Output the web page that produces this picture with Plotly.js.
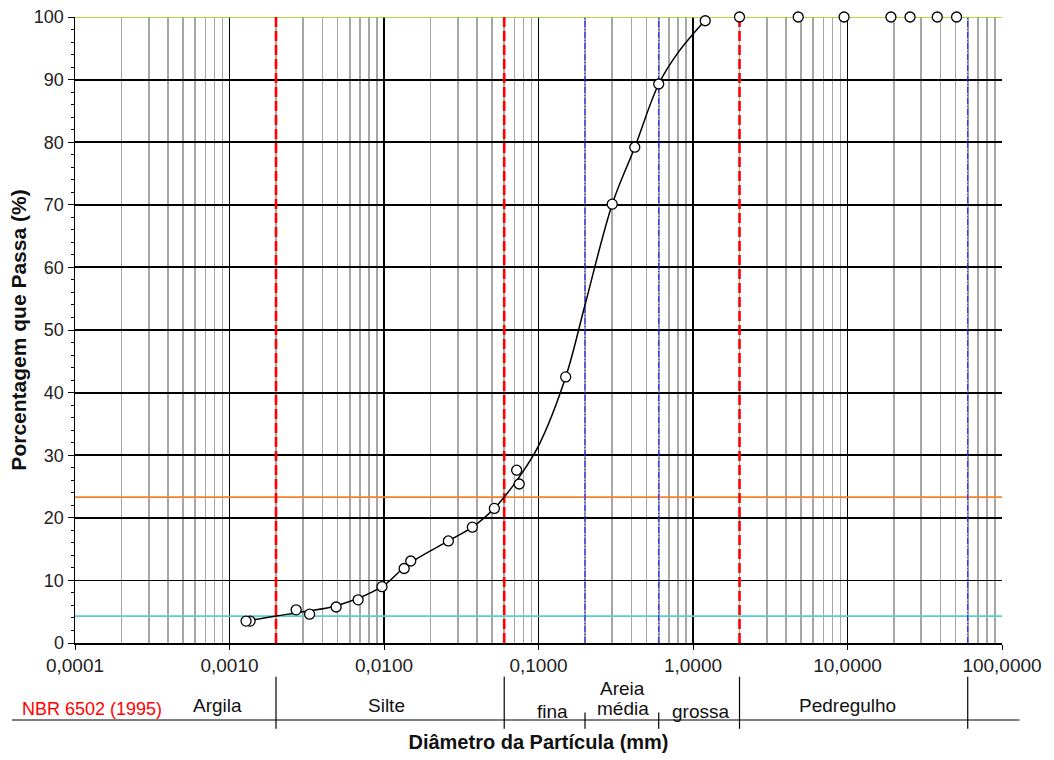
<!DOCTYPE html>
<html>
<head>
<meta charset="utf-8">
<script src="https://cdn.plot.ly/plotly-3.0.1.min.js"></script>
<style>html,body{margin:0;padding:0;background:#fff;}#chart{width:1054px;height:760px;}</style>
</head>
<body>
<div id="chart"></div>
<script>
// Sieve analysis (peneiramento)
const sieveDiam = [50.8, 38.1, 25.4, 19.1, 9.5, 4.8, 2.0, 1.2, 0.6, 0.42, 0.30, 0.15, 0.075];
const sievePass = [100, 100, 100, 100, 100, 100, 100, 99.4, 89.3, 79.2, 70.1, 42.5, 25.4];
// Sedimentation analysis
const sedDiam = [0.0722, 0.0518, 0.0373, 0.0261, 0.0149, 0.0135, 0.0097, 0.0068, 0.0049, 0.0033, 0.0027, 0.00136, 0.00128];
const sedPass = [27.6, 21.5, 18.5, 16.3, 13.1, 11.9, 9.0, 6.9, 5.75, 4.6, 5.3, 3.5, 3.5];
// Fitted granulometric curve
const curveDiam = [0.00128, 0.002, 0.003, 0.005, 0.0097, 0.0142, 0.0261, 0.0373, 0.0518, 0.06, 0.075, 0.1, 0.15, 0.2, 0.3, 0.42, 0.6, 0.8, 1.19];
const curvePass = [3.5, 4.3, 5.0, 6.0, 9.0, 12.5, 16.3, 18.5, 21.5, 23.3, 26.5, 31.5, 42.5, 54.0, 70.1, 79.2, 89.3, 94.3, 99.4];

// Axis ticks
const xTickVals = [0.0001, 0.001, 0.01, 0.1, 1, 10, 100];
const xTickText = ["0,0001", "0,0010", "0,0100", "0,1000", "1,0000", "10,0000", "100,0000"];
const yTickVals = [0, 10, 20, 30, 40, 50, 60, 70, 80, 90, 100];

// Reference lines
const redLimits = [0.002, 0.06, 2.0];      // NBR 6502 limits
const blueLimits = [0.2, 0.6, 60];         // sand sub-limits / gravel
const hLineY = [100, 23.3, 4.3];
const hLineColor = ["#99cc00", "#f5822a", "#55d0d0"];

// Classification band
const bandTall = [0.002, 0.06, 2.0, 60];
const bandSmall = [0.2, 0.6];
const bandText = ["Argila", "Silte", "fina", "Areia", "média", "grossa", "Pedregulho"];
const bandX = [0.00083, 0.0104, 0.124, 0.352, 0.352, 1.118, 10.07];
const bandY = [-0.100, -0.100, -0.109, -0.072, -0.104, -0.109, -0.100];

// minor gridlines 2..9 per decade
const xMinor = [];
for (let e = -4; e < 2; e++) for (let m = 2; m <= 9; m++) xMinor.push(+(m * Math.pow(10, e)).toPrecision(6));

const FONT = "Liberation Sans, Arial, sans-serif";
const X_MIN = 0.0001, X_MAX = 100;

const traces = [];
hLineY.forEach((y, i) => traces.push({x: [X_MIN, X_MAX], y: [y, y], type: "scatter", mode: "lines", line: {color: hLineColor[i], width: 1.6}, hoverinfo: "skip", showlegend: false, cliponaxis: false}));
redLimits.forEach(v => traces.push({x: [v, v], y: [0, 100], type: "scatter", mode: "lines", line: {color: "#ff0000", width: 2.6, dash: "10px,4px"}, hoverinfo: "skip", showlegend: false}));
blueLimits.forEach(v => traces.push({x: [v, v], y: [0, 100], type: "scatter", mode: "lines", line: {color: "#2a2aff", width: 1.2, dash: "6px,2px,1px,2px"}, hoverinfo: "skip", showlegend: false}));
traces.push({x: curveDiam, y: curvePass, type: "scatter", mode: "lines", line: {color: "#000", width: 1.5, shape: "spline", smoothing: 1}, hoverinfo: "skip", showlegend: false});
traces.push({x: sedDiam, y: sedPass, type: "scatter", mode: "markers", marker: {symbol: "circle", size: 10, color: "#fff", line: {color: "#000", width: 1.3}}, showlegend: false, name: "Sedimentação"});
traces.push({x: sieveDiam, y: sievePass, type: "scatter", mode: "markers", marker: {symbol: "circle", size: 10, color: "#fff", line: {color: "#000", width: 1.3}}, showlegend: false, name: "Peneiramento", cliponaxis: false});

const shapes = [];
shapes.push({type: "line", xref: "paper", yref: "paper", x0: -0.068, x1: 1.019, y0: -0.123, y1: -0.123, line: {color: "#000", width: 1.2}});
bandTall.forEach(v => shapes.push({type: "line", xref: "x", yref: "paper", x0: v, x1: v, y0: -0.054, y1: -0.137, line: {color: "#000", width: 1.2}}));
bandSmall.forEach(v => shapes.push({type: "line", xref: "x", yref: "paper", x0: v, x1: v, y0: -0.111, y1: -0.137, line: {color: "#000", width: 1.2}}));

const annotations = bandText.map((t, i) => ({x: Math.log10(bandX[i]), y: bandY[i], xref: "x", yref: "paper", text: t, showarrow: false, font: {family: FONT, size: 19, color: "#111"}, xanchor: "center", yanchor: "middle"}));
annotations.push({x: 0.018, y: -0.105, xref: "paper", yref: "paper", text: "NBR 6502 (1995)", showarrow: false, font: {family: FONT, size: 18, color: "#ff0000"}, xanchor: "center", yanchor: "middle"});

const layout = {
  width: 1054, height: 760,
  margin: {l: 75, r: 52, t: 17, b: 117},
  paper_bgcolor: "#fff", plot_bgcolor: "#fff",
  showlegend: false,
  font: {family: FONT, size: 18, color: "#222"},
  xaxis: {
    type: "log", range: [-4, 2], autorange: false,
    tickvals: xTickVals, ticktext: xTickText, tickfont: {family: FONT, size: 19, color: "#222"},
    ticks: "outside", ticklen: 5, tickcolor: "#000",
    showgrid: true, gridcolor: "#000", gridwidth: 1.8,
    minor: {tickvals: xMinor, showgrid: true, gridcolor: "#a6a6a6", gridwidth: 1.6, ticks: ""},
    showline: true, linecolor: "#000", linewidth: 1.5,
    zeroline: false, automargin: false,
    title: {text: "<b>Diâmetro da Partícula (mm)</b>", font: {family: FONT, size: 20, color: "#111"}, standoff: 59}
  },
  yaxis: {
    range: [0, 100], autorange: false,
    tickvals: yTickVals, tickfont: {family: FONT, size: 18, color: "#222"},
    ticks: "outside", ticklen: 6, tickcolor: "#000",
    showgrid: true, gridcolor: "#000", gridwidth: 1.8,
    minor: {dtick: 2, ticks: "outside", ticklen: 3, tickcolor: "#000", showgrid: false},
    showline: true, linecolor: "#000", linewidth: 1.5,
    zeroline: false, automargin: false,
    title: {text: "<b>Porcentagem que Passa (%)</b>", font: {family: FONT, size: 21, color: "#111"}, standoff: 1}
  },
  shapes: shapes,
  annotations: annotations
};

Plotly.newPlot("chart", traces, layout, {staticPlot: true, displayModeBar: false});
</script>
</body>
</html>
